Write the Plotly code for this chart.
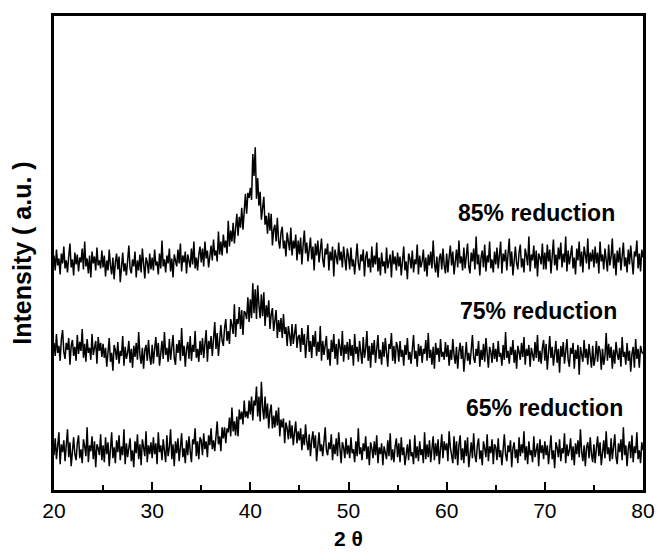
import numpy as np
import plotly.graph_objects as go

# 2-theta grid (step 0.125 deg); intensities (a.u., curves offset)
two_theta = np.linspace(20.0, 80.0, 481)

int_85 = [
    236, 221, 242, 226, 233, 217, 238, 228, 245, 223, 231, 219, 235, 248, 224, 232, 216, 239, 227, 237,
    220, 234, 229, 243, 222, 250, 225, 233, 218, 236, 214, 240, 228, 235, 221, 244, 226, 231, 223, 241,
    224, 236, 215, 231, 221, 242, 226, 217, 234, 212, 229, 238, 222, 235, 209, 230, 239, 220, 228, 216,
    233, 246, 223, 218, 232, 225, 240, 214, 231, 221, 237, 219, 243, 224, 213, 234, 229, 218, 238, 222,
    234, 221, 242, 226, 230, 217, 238, 223, 251, 225, 232, 219, 236, 228, 243, 220, 233, 214, 237, 231,
    225, 242, 228, 248, 220, 236, 229, 240, 218, 237, 232, 224, 243, 227, 250, 223, 234, 221, 237, 245,
    229, 243, 225, 250, 233, 241, 224, 239, 246, 231, 252, 236, 241, 230, 260, 237,
    250, 236, 257, 244, 251, 238, 271, 245, 261, 250, 269, 248, 261, 278, 256, 275,
    264, 284, 262, 282, 298, 278, 299, 294,
    304, 292, 338, 316, 345, 293, 314, 286, 300, 272, 288, 295, 267, 276, 258, 279,
    261, 278, 246, 262, 267, 250, 274, 251, 243, 259, 265, 243, 251, 235, 259, 251,
    241, 264, 236, 251, 243, 257, 231, 251,
    237, 254, 227, 246, 261, 238, 249, 230, 242, 254, 232, 245, 221, 248, 236, 251, 229, 240, 253, 232,
    224, 243, 237, 248, 221, 240, 231, 245, 215, 242, 236, 227, 249, 231, 240, 224, 245, 233, 221, 243,
    235, 222, 244, 225, 232, 217, 239, 248, 228, 221, 237, 230, 242, 215, 234, 240, 224, 233, 219, 245,
    224, 236, 227, 249, 220, 234, 216, 239, 225, 230, 218, 244, 223, 232, 237, 214, 241, 227, 235, 221,
    239, 225, 235, 216, 231, 245, 221, 230, 212, 238, 233, 223, 241, 219, 232, 227, 247, 217, 236, 224,
    230, 242, 220, 234, 215, 237, 226, 240, 223, 251, 228, 219, 235, 214, 233, 238, 222, 243, 226, 218,
    238, 219, 234, 246, 226, 240, 217, 232, 242, 224, 251, 228, 235, 221, 244, 223, 233, 248, 225, 218,
    239, 230, 243, 222, 255, 227, 237, 216, 234, 241, 224, 247, 220, 236, 229, 250, 223, 232, 219, 240,
    227, 244, 223, 236, 250, 218, 238, 230, 242, 221, 235, 253, 225, 240, 216, 234, 245, 228, 222, 239,
    247, 224, 233, 219, 243, 236, 226, 255, 220, 237, 231, 246, 223, 241, 215, 238, 234, 227, 248, 222,
    239, 222, 247, 230, 242, 218, 235, 252, 226, 237, 221, 244, 232, 249, 224, 238, 229, 255, 220, 241,
    227, 236, 246, 223, 234, 217, 243, 231, 250, 225, 240, 219, 245, 237, 228, 253, 222, 239, 230, 242,
    224, 245, 228, 239, 218, 250, 230, 237, 222, 243, 233, 220, 247, 226, 235, 253, 223, 238, 216, 241,
    229, 244, 221, 236, 249, 225, 234, 219, 242, 227, 246, 231, 217, 240, 235, 251, 223, 238, 220, 242,
    234,
]

int_75 = [
    148, 135, 157, 138, 145, 130, 152, 161, 139, 132, 148, 141, 153, 126, 145, 151, 135, 144, 130, 156,
    137, 149, 140, 162, 133, 147, 129, 152, 138, 143, 131, 157, 136, 145, 150, 127, 154, 140, 148, 134,
    147, 133, 143, 124, 139, 153, 129, 138, 120, 146, 141, 131, 149, 127, 140, 135, 155, 125, 144, 132,
    138, 150, 128, 142, 123, 145, 134, 148, 131, 159, 136, 127, 143, 122, 141, 146, 130, 151, 134, 126,
    146, 127, 142, 154, 134, 148, 125, 140, 150, 132, 159, 136, 143, 129, 152, 131, 141, 156, 133, 126,
    147, 138, 151, 130, 163, 135, 145, 124, 142, 149, 132, 155, 130, 146, 139, 160, 133, 142, 129, 150,
    136, 153, 133, 146, 161, 129, 150, 142, 155, 135, 150, 169, 142, 158, 135, 154,
    166, 150, 145, 163, 172, 150, 160, 147, 172, 166, 157, 187, 154, 172, 167, 184,
    162, 181, 156, 180, 178, 172, 194, 169,
    192, 173, 208, 178, 202, 172, 206, 186, 173, 197, 175, 199, 165, 186, 174, 191,
    162, 177, 183, 160, 170, 181, 153, 171, 159, 173, 153, 177, 157, 164, 145, 165,
    156, 145, 167, 147, 157, 167, 143, 154,
    156, 139, 163, 146, 157, 133, 149, 166, 139, 150, 133, 156, 144, 160, 135, 149,
    139, 165, 130, 150, 136, 145, 155, 131, 142, 125, 151, 139, 157, 132, 147, 126,
    152, 144, 135, 160, 129, 146, 137, 149,
    131, 152, 135, 146, 125, 157, 137, 144, 129, 150, 140, 127, 154, 133, 142, 160, 130, 145, 123, 148,
    136, 151, 128, 143, 156, 132, 141, 126, 149, 134, 153, 138, 124, 147, 142, 158, 130, 145, 127, 149,
    144, 129, 150, 134, 141, 125, 146, 136, 153, 131, 139, 127, 143, 156, 132, 140, 124, 147, 135, 145,
    128, 142, 137, 151, 130, 158, 133, 141, 126, 144, 122, 148, 136, 143, 129, 152, 134, 139, 131, 149,
    134, 146, 125, 141, 131, 152, 136, 127, 144, 122, 139, 148, 132, 145, 119, 140, 149, 130, 138, 126,
    143, 156, 133, 128, 142, 135, 150, 124, 141, 131, 147, 129, 153, 134, 123, 144, 139, 128, 148, 132,
    142, 129, 150, 134, 138, 125, 146, 131, 159, 133, 140, 127, 144, 136, 151, 128, 141, 122, 145, 139,
    131, 148, 134, 154, 126, 142, 135, 146, 124, 143, 138, 130, 149, 133, 156, 129, 140, 127, 143, 151,
    130, 147, 121, 140, 155, 133, 144, 125, 138, 150, 128, 142, 118, 145, 134, 149, 127, 139, 152, 131,
    124, 143, 137, 148, 122, 141, 132, 146, 116, 144, 138, 129, 151, 133, 142, 126, 147, 135, 123, 145,
    125, 133, 150, 129, 145, 140, 121, 142, 126, 135, 158, 130, 147, 133, 144, 122, 141, 127, 149, 137,
    131, 143, 124, 154, 134, 139, 126, 148, 130, 140, 119, 137, 144, 123, 152, 132, 142, 123, 145, 139,
    137,
]

int_65 = [
    35, 52, 31, 44, 58, 26, 46, 38, 50, 29, 43, 61, 33, 48, 24, 42, 53, 36, 30, 47,
    55, 32, 41, 27, 51, 44, 34, 63, 28, 45, 39, 54, 31, 49, 23, 46, 42, 35, 56, 30,
    45, 28, 53, 36, 48, 24, 41, 58, 32, 43, 27, 50, 38, 55, 30, 44, 35, 61, 26, 47,
    33, 42, 52, 29, 40, 23, 49, 37, 56, 31, 46, 25, 51, 43, 34, 59, 28, 45, 36, 48,
    32, 53, 36, 47, 26, 58, 38, 45, 30, 51, 41, 28, 55, 34, 43, 61, 31, 46, 24, 49,
    37, 52, 29, 44, 57, 33, 42, 27, 50, 35, 54, 39, 28, 51, 46, 62, 34, 49, 31, 53,
    50, 35, 57, 41, 49, 33, 55, 45, 62, 41, 50, 39, 55, 69, 46, 54,
    39, 63, 52, 63, 47, 62, 58, 73, 54, 83, 59, 69, 55, 74, 54, 81,
    71, 79, 66, 90, 73, 79, 72, 90,
    76, 94, 70, 90, 85, 104, 74, 94, 69, 109, 83, 71, 94, 72, 87, 62,
    79, 86, 62, 75, 63, 80, 65, 83, 54, 71, 63, 72, 47, 68, 62, 51,
    70, 52, 65, 45, 58, 69, 47, 59,
    50, 62, 40, 56, 45, 66, 49, 40, 56, 34, 50, 59, 42, 55, 29, 49,
    58, 39, 46, 34, 51, 63, 40, 35, 48, 41, 56, 30, 46, 36, 52, 34,
    58, 39, 27, 48, 43, 32, 52, 36,
    45, 32, 53, 37, 41, 28, 49, 34, 62, 36, 43, 30, 47, 39, 54, 31, 44, 25, 48, 42,
    32, 49, 35, 55, 27, 43, 36, 47, 25, 44, 39, 31, 50, 34, 57, 30, 41, 28, 44, 52,
    33, 47, 28, 53, 35, 43, 25, 40, 46, 30, 51, 34, 38, 26, 55, 32, 44, 29, 49, 35,
    41, 27, 58, 31, 46, 33, 50, 28, 39, 54, 30, 47, 34, 51, 26, 43, 56, 32, 49, 40,
    47, 29, 59, 43, 32, 27, 54, 31, 49, 25, 45, 55, 30, 42, 27, 50, 34, 53, 23, 41,
    48, 32, 57, 35, 28, 45, 52, 31, 40, 25, 49, 42, 33, 56, 29, 44, 37, 51, 26, 46,
    43, 30, 52, 33, 40, 25, 47, 56, 36, 29, 45, 38, 50, 23, 42, 48, 32, 41, 27, 53,
    34, 46, 37, 59, 30, 44, 26, 49, 35, 40, 28, 54, 33, 42, 47, 24, 51, 37, 45, 31,
    49, 35, 45, 26, 41, 55, 31, 40, 22, 48, 43, 33, 51, 29, 42, 37, 57, 27, 46, 34,
    40, 52, 30, 44, 25, 47, 36, 50, 33, 61, 38, 29, 45, 24, 43, 48, 32, 53, 36, 28,
    46, 27, 42, 54, 34, 48, 25, 40, 50, 32, 59, 36, 43, 29, 52, 31, 41, 56, 33, 26,
    47, 38, 51, 30, 63, 35, 45, 24, 42, 49, 32, 55, 28, 44, 37, 58, 31, 40, 27, 48,
    40,
]

for name, ys in [("85", int_85), ("75", int_75), ("65", int_65)]:
    assert len(ys) == len(two_theta), (name, len(ys))

labels = ["85% reduction", "75% reduction", "65% reduction"]
label_x = [69.15, 69.35, 69.95]
label_y = [279, 180, 83]

fig = go.Figure()

for ys in [int_85, int_75, int_65]:
    fig.add_trace(go.Scatter(
        x=two_theta, y=ys, mode="lines",
        line=dict(color="black", width=1.5),
        showlegend=False, hoverinfo="skip"
    ))

for t, lx, ly in zip(labels, label_x, label_y):
    fig.add_annotation(
        x=lx, y=ly, text="<b>%s</b>" % t, showarrow=False,
        font=dict(family="Liberation Sans, Arial", size=23, color="black")
    )

fig.update_layout(
    width=671, height=553,
    margin=dict(l=46, r=36, t=5, b=71),
    paper_bgcolor="white", plot_bgcolor="white",
    font=dict(family="Liberation Sans, Arial", color="black"),
)

fig.update_xaxes(
    range=[20, 80], tickvals=[20, 30, 40, 50, 60, 70, 80],
    ticks="inside", ticklen=8, tickwidth=2, tickcolor="black",
    minor=dict(tickvals=[25, 35, 45, 55, 65, 75], ticks="inside", ticklen=5, tickwidth=2, tickcolor="black"),
    tickfont=dict(size=21),
    showline=True, linewidth=2.5, linecolor="black", mirror=True,
    showgrid=False, zeroline=False,
    title=dict(text="<b>2 θ</b>", font=dict(size=21), standoff=11),
)

fig.update_yaxes(
    range=[0, 477], showticklabels=False, ticks="",
    showline=True, linewidth=2.5, linecolor="black", mirror=True,
    showgrid=False, zeroline=False,
    title=dict(text="<b>Intensity ( a.u. )</b>", font=dict(size=25), standoff=14),
)

fig.write_html("out.html")
